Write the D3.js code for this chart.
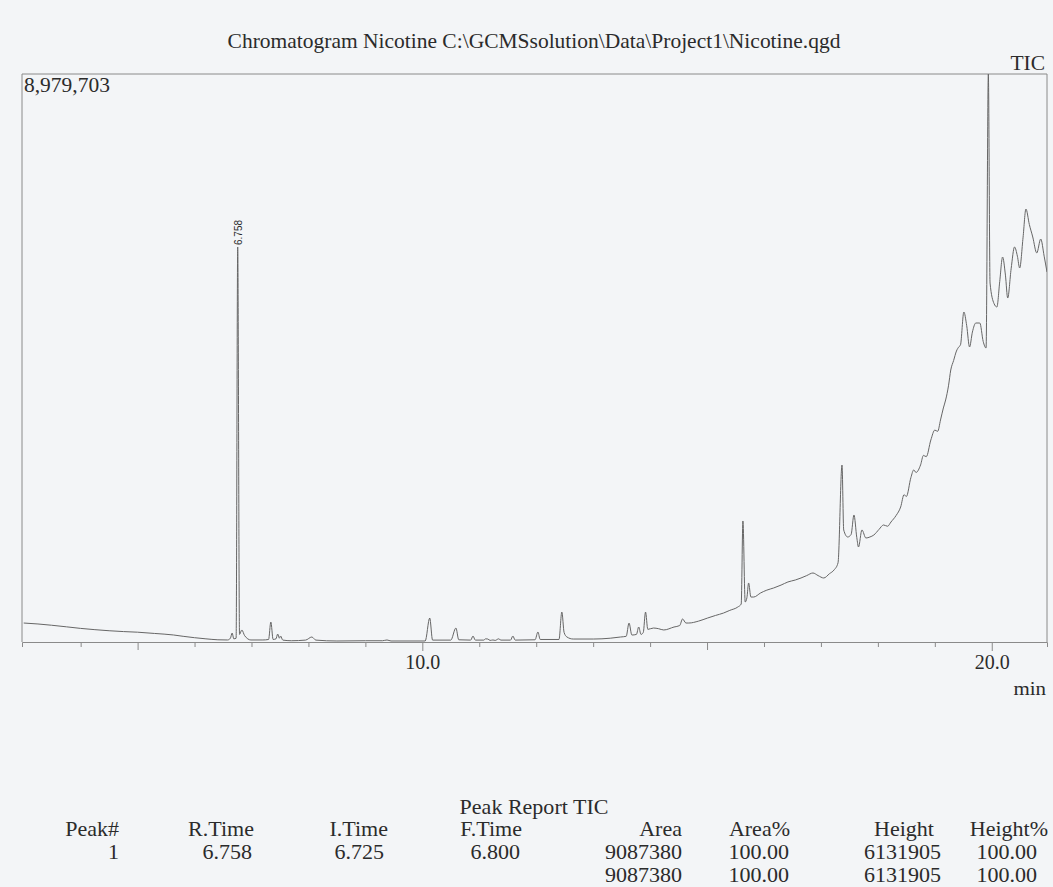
<!DOCTYPE html>
<html><head><meta charset="utf-8">
<script src="https://cdn.jsdelivr.net/npm/d3@7"></script>
<style>
html,body{margin:0;padding:0;background:#f3f5f7;}
svg{display:block;font-family:"Liberation Serif","Times New Roman",serif;}
</style></head><body>
<svg id="chart" width="1053" height="887"></svg>
<script>
// ---------- data ----------
const title = "Chromatogram Nicotine C:\\GCMSsolution\\Data\\Project1\\Nicotine.qgd";
const traceName = "TIC";
const unitLabel = "min";
const yMax = 8979703;
const yMaxLabel = "8,979,703";
const xDomain = [2.97, 20.97];

const times = [
3.00,3.25,3.49,3.75,4.00,4.25,4.50,4.75,5.00,5.30,5.63,5.80,6.00,6.20,6.41,6.58,6.63,6.66,6.69,6.73,
6.758,6.79,6.83,6.88,6.99,7.20,7.30,7.34,7.38,7.43,7.46,7.49,7.51,7.55,7.70,7.95,8.06,8.13,8.50,9.00,
9.30,9.38,9.45,10.05,10.13,10.18,10.50,10.59,10.64,10.85,10.89,10.93,11.08,11.11,11.15,11.19,11.24,11.28,11.34,11.38,
11.55,11.59,11.63,11.98,12.03,12.07,12.40,12.45,12.49,12.54,12.65,13.01,13.30,13.48,13.58,13.63,13.68,13.76,13.80,13.84,
13.88,13.92,13.96,14.06,14.15,14.24,14.42,14.52,14.57,14.63,14.68,14.85,15.01,15.15,15.29,15.40,15.54,15.60,15.63,15.67,
15.70,15.73,15.77,15.82,15.94,16.05,16.17,16.30,16.42,16.55,16.65,16.75,16.86,16.95,17.05,17.15,17.23,17.30,17.37,17.40,
17.47,17.53,17.58,17.63,17.66,17.72,17.79,17.86,17.93,18.02,18.10,18.17,18.23,18.32,18.40,18.46,18.50,18.58,18.63,18.67,
18.75,18.80,18.85,18.93,19.00,19.05,19.10,19.15,19.19,19.24,19.28,19.33,19.38,19.42,19.45,19.51,19.56,19.61,19.66,19.72,
19.79,19.85,19.90,19.94,19.97,20.04,20.09,20.14,20.19,20.24,20.28,20.34,20.40,20.45,20.49,20.55,20.60,20.66,20.72,20.79,
20.86,20.92,20.97
];
const intensities = [
300000,285000,265000,240000,215000,195000,178000,165000,155000,135000,111000,90000,68000,50000,35000,32000,60000,142000,50000,60000,
6245000,120000,190000,100000,32000,32000,40000,316000,40000,50000,126000,60000,95000,30000,20000,30000,79000,30000,16000,20000,
20000,32000,16000,16000,379000,30000,30000,221000,35000,30000,95000,30000,30000,50000,47000,25000,32000,25000,50000,30000,
30000,95000,30000,35000,158000,40000,40000,474000,150000,79000,47000,47000,60000,79000,90000,300000,110000,120000,237000,120000,
150000,474000,200000,221000,210000,190000,237000,260000,364000,300000,300000,330000,379000,420000,458000,500000,553000,600000,1913000,632000,
700000,933000,711000,711000,775000,820000,854000,900000,949000,980000,1012000,1050000,1091000,1050000,1012000,1080000,1138000,1250000,2798000,1771000,
1660000,1700000,2008000,1650000,1502000,1771000,1644000,1660000,1692000,1780000,1850000,1830000,1897000,2000000,2134000,2330000,2300000,2600000,2720000,2680000,
2800000,2950000,2930000,3193000,3350000,3330000,3510000,3700000,3826000,4050000,4300000,4450000,4600000,4664000,4695000,5217000,5000000,4664000,4900000,5043000,
5043000,4750000,4648000,8979703,5675000,5350000,5296000,5700000,6086000,5800000,5438000,5900000,6245000,6100000,5913000,6400000,6845000,6600000,6403000,6150000,
6371000,6100000,5849000
];

const peakTimes = [6.758];
const peakApex = [6245000];
const peakLabels = ["6.758"];

const tickMinutes = [4,5,6,7,8,9,10,11,12,13,14,15,16,17,18,19,20];
const labeledTicks = [10, 20];
const mediumTicks = [5, 15];

const reportTitle = "Peak Report TIC";
const tableHeaders = ["Peak#","R.Time","I.Time","F.Time","Area","Area%","Height","Height%"];
const tableRow = ["1","6.758","6.725","6.800","9087380","100.00","6131905","100.00"];
const tableTotal = ["","","","","9087380","100.00","6131905","100.00"];

// ---------- layout ----------
const svg = d3.select("#chart");
const L = 22, R = 1047, T = 74, B = 642;
const ink = "#2b2b2b", boxCol = "#8a8a8a", traceCol = "#666666";
const SX = 1.075; // horizontal stretch of the printed font

function txt(xp, yp, s, size, anchor) {
  return svg.append("text")
    .attr("transform", `translate(${xp},${yp}) scale(${SX},1)`)
    .attr("text-anchor", anchor || "start")
    .attr("font-size", size).attr("fill", ink).text(s);
}

const x = d3.scaleLinear().domain(xDomain).range([L, R]);
const y = d3.scaleLinear().domain([0, yMax]).range([B, T]);

// title
txt(534, 48, title, 20, "middle");
txt(1045, 70, traceName, 20, "end");

// box
svg.append("line").attr("x1", L).attr("x2", R).attr("y1", T).attr("y2", T).attr("stroke", boxCol).attr("stroke-width", 1);
svg.append("line").attr("x1", L).attr("x2", L).attr("y1", T).attr("y2", B).attr("stroke", boxCol).attr("stroke-width", 1);
svg.append("line").attr("x1", R).attr("x2", R).attr("y1", T).attr("y2", B).attr("stroke", boxCol).attr("stroke-width", 1);

// x axis
const xAxis = d3.axisBottom(x).tickValues(tickMinutes)
  .tickFormat(d => labeledTicks.includes(d) ? d3.format(".1f")(d) : "")
  .tickSizeOuter(0)
  .tickSize(5);
const gx = svg.append("g").attr("transform", `translate(0,${B})`).call(xAxis);
gx.select(".domain").attr("stroke", boxCol);
gx.selectAll(".tick line").attr("stroke", boxCol)
  .attr("y2", d => labeledTicks.includes(d) ? 9 : (mediumTicks.includes(d) ? 8 : 5));
gx.selectAll(".tick text").attr("font-family", "Liberation Serif, serif")
  .attr("font-size", 20).attr("fill", ink).attr("y", 13).attr("dy", "0.71em");
txt(1046, 695, unitLabel, 19.5, "end");

// y max label
txt(24, 92, yMaxLabel, 20, "start");

// trace
svg.append("clipPath").attr("id", "clip").append("rect")
  .attr("x", L).attr("y", T).attr("width", R - L).attr("height", B - T + 1);
const pts = times.map((t, i) => ({t, v: intensities[i]}));
const line = d3.line().x(d => x(d.t)).y(d => y(d.v)).curve(d3.curveMonotoneX);
svg.append("path").datum(pts).attr("clip-path", "url(#clip)")
  .attr("d", line).attr("fill", "none").attr("stroke", traceCol).attr("stroke-width", 1)
  .attr("stroke-linejoin", "round");

// peak labels
peakTimes.forEach((t, i) => {
  const px = x(t) + 1, py = y(peakApex[i]) - 2;
  svg.append("text").attr("transform", `translate(${px},${py}) rotate(-90)`)
    .attr("font-size", 10).attr("fill", ink).attr("dominant-baseline", "central")
    .attr("font-family", "Liberation Sans, Arial, sans-serif").text(peakLabels[i]);
});

// peak report table
txt(534, 814, reportTitle, 20.5, "middle");
const headRight = [119, 254, 388, 522, 682, 790, 934, 1048];
const rowRight = [119, 252, 384, 520, 682, 789, 941, 1037];
const rows = [
  {vals: tableHeaders, xs: headRight, y: 836},
  {vals: tableRow, xs: rowRight, y: 859},
  {vals: tableTotal, xs: rowRight, y: 882}
];
rows.forEach(r => {
  r.vals.forEach((v, i) => { if (v) txt(r.xs[i], r.y, v, 20.5, "end"); });
});
</script>
</body></html>
